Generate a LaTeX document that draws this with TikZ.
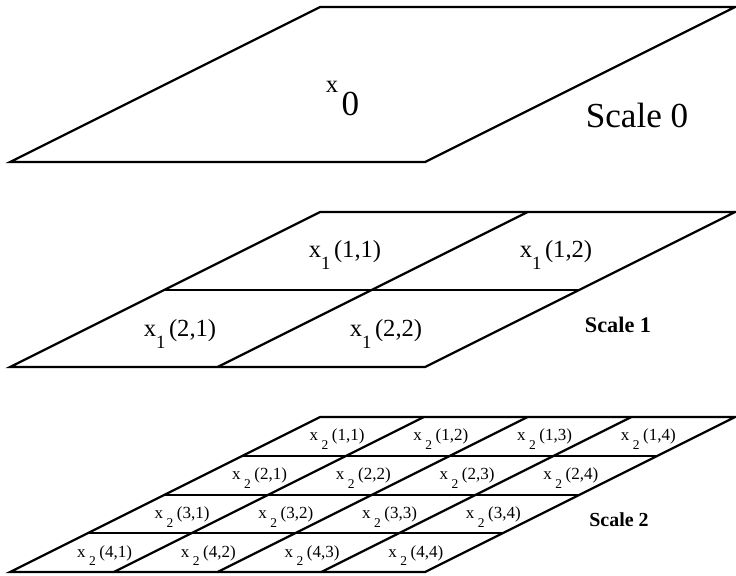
\documentclass[tikz,border=0pt]{standalone}
\usepackage{fontspec}
\setmainfont{Liberation Serif}
\usepackage{tikz}
\newcommand{\xonelab}[1]{x\raisebox{-11pt}{\fontsize{16}{18}\selectfont 1}\hspace{3pt}(#1)}
\newcommand{\xtwolab}[1]{x\hspace{3pt}\raisebox{-7.5pt}{\fontsize{11.5}{13}\selectfont 2}\hspace{3pt}(#1)}

\begin{document}
\begin{tikzpicture}[x=0.03cm,y=-0.03cm,
  plate/.style={line width=1.9pt,line join=miter},
  celllab/.style={inner sep=0pt,font=\fontsize{21}{24}\selectfont},
  smalllab/.style={inner sep=0pt,font=\fontsize{14.5}{17}\selectfont},
  scalelab/.style={inner sep=0pt}]
  \useasboundingbox (0,0) rectangle (736,575);
  % scale 0
  \draw[plate](10,162)--(425,162)--(735,7)--(320,7)--cycle;
  \node[inner sep=0pt] (x0) at (342.5,98.5) {\fontsize{21}{24}\selectfont x\hspace{3pt}\raisebox{-19.5pt}{\fontsize{30}{34}\selectfont 0}};
  \node[scalelab,font=\fontsize{30}{34}\selectfont] (s0) at (637,115) {Scale 0};
  % scale 1
  \draw[plate](10,367)--(425,367)--(735,212)--(320,212)--cycle;
  \draw[plate](165,290)--(580,290);
  \draw[plate](217.5,367)--(527.5,212);
  \node[celllab] (x11) at (345,255) {\xonelab{1,1}};
  \node[celllab] (x12) at (556,255) {\xonelab{1,2}};
  \node[celllab] (x21) at (180,334) {\xonelab{2,1}};
  \node[celllab] (x22) at (386,334) {\xonelab{2,2}};
  \node[scalelab,font=\fontsize{19}{22}\selectfont\bfseries] (s1) at (618,325) {Scale 1};
  % scale 2
  \draw[plate](10,572)--(425,572)--(735,417)--(320,417)--cycle;
  \foreach \k/\yr in {1/533,2/495,3/456}{
    \draw[plate]({10+77.5*\k},\yr)--++(415,0);
    \draw[plate]({10+103.75*\k},572)--++(310,-155);
  }
  \foreach \r in {1,...,4}
    \foreach \c in {1,...,4}
      \node[smalllab] (x2-\r-\c) at ({14+103.75*(\c-0.5)+310-77.5*(\r-0.5)},{420+38.75*(\r-0.5)}) {\xtwolab{\r,\c}};
  \node[scalelab,font=\fontsize{17}{20}\selectfont\bfseries] (s2) at (619,520) {Scale 2};
\end{tikzpicture}
\end{document}
